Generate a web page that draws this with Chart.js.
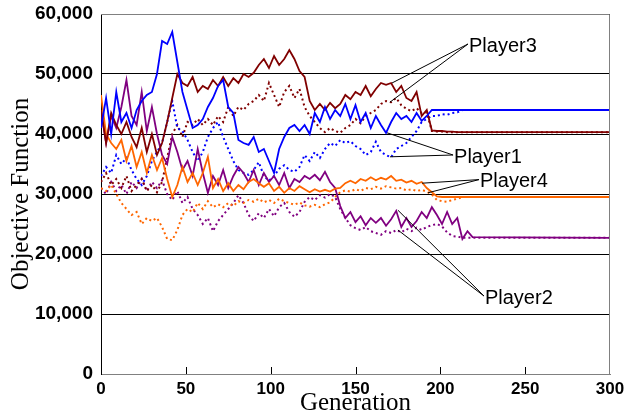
<!DOCTYPE html>
<html>
<head>
<meta charset="utf-8">
<script src="https://cdn.jsdelivr.net/npm/chart.js@4/dist/chart.umd.min.js"></script>
<style>
  body { margin: 0; background: #fff; }
  #wrap { width: 641px; height: 417px; }
</style>
</head>
<body>
<div id="wrap"><canvas id="chart" width="641" height="417"></canvas></div>
<script>
// Generation (x) of every sample, values in thousands
const gens = [0, 3, 6, 9, 12, 15, 18, 21, 24, 27,
  30, 33, 36, 39, 42, 45, 48, 51, 54, 57,
  60, 63, 66, 69, 72, 75, 78, 81, 84, 87,
  90, 93, 96, 99, 102, 105, 108, 111, 114, 117,
  120, 123, 126, 129, 132, 135, 138, 141, 144, 147,
  150, 153, 156, 159, 162, 165, 168, 171, 174, 177,
  180, 183, 186, 189, 192, 195, 198, 201, 204, 207,
  210, 213, 216, 219, 300];

const player1 = [41, 46, 40, 47, 42, 43.5, 41, 44, 45.5, 46.5,
  47, 50, 55.5, 55, 57, 52, 47, 44, 41, 41.5,
  42.5, 44.5, 46, 48, 49, 44.5, 43.5, 39, 38.5, 38.2,
  39.5, 37, 37.5, 35.5, 33.5, 37.5, 39.5, 41, 41.5, 40.5,
  41.5, 40, 43.5, 42, 44.5, 42.5, 44, 43, 45, 42.5,
  44.8, 42, 43.5, 41, 43, 41.5, 40.2, 42, 43.5, 42.5,
  43, 42, 43.5, 42.2, 43, 44, 44, 44, 44, 44,
  44, 44, 44, 44, 44];
const player1b = [33, 34.5, 33.5, 36.5, 35, 36, 34, 32.5, 31.5, 33,
  35.5, 37, 38.5, 42, 45.5, 41, 40.5, 39, 37, 35.5,
  37, 39.5, 41, 42, 39.5, 37.5, 35.5, 34, 33.5, 33.2,
  34, 35.3, 33, 32.2, 33, 34.2, 34.8, 34, 33.7, 34.5,
  36.5, 35.5, 37, 36, 37.5, 38.5, 38, 39, 38.5, 38.8,
  38, 37.5, 36.5, 37, 38.7, 37, 36.5, 36.1, 37.5, 38,
  38.5, 39.5, 40.5, 42, 42.5, 43, 43, 43.3, 43.2, 43.5,
  43.6, 44, 44, 44, 44];

const player2 = [44, 38.5, 43, 41, 44.5, 49, 43, 41.5, 47, 40.5,
  44.5, 40, 36.5, 35, 39.5, 37, 34, 35.5, 33, 37.5,
  33.5, 30.2, 33, 31.5, 34, 31, 33, 34.5, 33.5, 32,
  34, 31.5, 33.5, 32, 33, 31.5, 33.5, 31, 32.5, 32,
  33, 32.5, 33.2, 32.3, 33.7, 32, 31, 28, 26, 27,
  25.3, 26.3, 24.8, 26, 25.2, 26, 24.7, 25.8, 27.2, 24.5,
  26, 24.5, 25.5, 27, 26, 27.8, 26.5, 25, 27, 25,
  26, 22.5, 23.8, 22.8, 22.7];
const player2b = [31, 30, 32, 30.5, 31.5, 30, 32, 31, 32.5, 30.5,
  32, 31, 32.3, 30, 29, 30.5, 28.5, 29.5, 27.5, 26.5,
  25, 26, 23.8, 25.5, 26.5, 27.5, 28.5, 29.8, 28.5, 26.5,
  25.5, 26.8, 26, 27.5, 26.3, 27.8, 28.5, 27, 26.2, 27,
  28.7, 29.5, 29, 29.8, 29.4, 30, 29.5, 27.5, 26, 24.8,
  24.3, 24, 24.5, 23.8, 23.5, 23.2, 23.8, 23.5, 24, 23.6,
  24.2, 23.8, 24.4, 24, 24.5, 24.8, 25, 24.6, 23.6, 23,
  22.9, 22.7, 22.7, 22.7, 22.7];

const player3 = [44, 38.5, 43.5, 41.5, 40, 42, 39.5, 37.8, 41, 37,
  40, 36.5, 38.5, 42, 46, 50, 48.5, 48, 49.5, 47,
  48, 47.5, 49, 48, 49.5, 48, 49.3, 48.5, 50, 49.5,
  50.2, 51.5, 52.5, 51, 53, 51.5, 52.5, 54, 52.5, 50.5,
  49.5, 45.5, 44, 45, 44, 45.2, 44.3, 45, 46.5, 45.8,
  47, 46.5, 48, 46.3, 47.5, 48.5, 48.2, 48.5, 47, 48,
  46, 45.5, 47, 43, 44, 40.6, 40.5, 40.5, 40.4, 40.4,
  40.3, 40.3, 40.3, 40.3, 40.3];
const player3b = [32, 33.5, 31.5, 32.5, 31, 33, 30.5, 31.5, 32.5, 30.5,
  31.5, 30.3, 32, 36, 40, 41.5, 39.5, 42, 41.5, 42.5,
  41.5, 42.5, 41.5, 43, 42, 44.5, 43, 44.5, 44, 45,
  45.5, 46.5, 45.5, 48.5, 46.5, 44.5, 47, 48, 46, 47.5,
  44.5, 43, 42, 41, 40.3, 41, 40.5, 40.2, 41, 41.5,
  42.5, 41.8, 43, 43.5, 44, 45, 45.5, 45.3, 46, 44.8,
  44.2, 43.8, 44.3, 43.5, 43.6, 40.5, 40.4, 40.4, 40.3, 40.3,
  40.3, 40.3, 40.3, 40.3, 40.3];

const player4 = [46.5, 40, 38.5, 37.5, 39, 35.5, 38, 34.5, 37, 33.5,
  36.5, 34, 36, 32.5, 29.5, 31.5, 34.5, 32, 33.5, 31.5,
  33.5, 36.2, 31, 32.5, 30.5, 31.8, 30.5, 31.5, 30.8, 32,
  32.5, 31.8, 31.2, 31.8, 30.5, 31.2, 30.2, 31, 30.5, 31.3,
  30.8, 30.3, 30.8, 30.4, 30.7, 30.4, 30.9, 31, 31.8, 32.2,
  31.8, 32.5, 32.2, 32.8, 32.3, 32.7, 32.4, 33, 32.2, 32.4,
  31.9, 32.2, 31.7, 32, 31, 30.3, 29.6, 29.5, 29.5, 29.5,
  29.5, 29.5, 29.5, 29.5, 29.5];
const player4b = [31, 30.5, 31.5, 30, 28.5, 27.5, 26.5, 27, 25, 26,
  25.5, 26, 24.5, 22.5, 22.3, 24, 26.5, 27.5, 27, 28.5,
  27.5, 28.8, 27.8, 28.3, 27.8, 28.5, 28, 28.8, 28.5, 29,
  28.7, 29.2, 28.6, 29, 28.5, 29.2, 28.8, 28.5, 28.2, 28.6,
  28.1, 27.9, 28.2, 27.8, 28.3, 28.6, 29.5, 30.3, 30.6, 30.4,
  30.8, 30.5, 31, 30.8, 31.2, 30.9, 31.3, 31.1, 30.9, 31,
  30.6, 30.8, 30.5, 30.7, 30.4, 29.9, 29, 28.8, 28.7, 29,
  29.2, 29.5, 29.5, 29.5, 29.5];

const yTickLabels = ['0', '10,000', '20,000', '30,000', '40,000', '50,000', '60,000'];
const xTickLabels = ['0', '50', '100', '150', '200', '250', '300'];

// call-out labels: text anchor and the two points each one points at
const calloutNames = ['Player3', 'Player1', 'Player4', 'Player2'];
const calloutAt = [[216.3, 55.0], [207.5, 36.5], [222.8, 32.4], [225.7, 13.0]];
const calloutTargets = [
  [[171.5, 48.5], [170.3, 45.3]],
  [[168.6, 40.2], [170.3, 36.2]],
  [[189.2, 31.8], [192.7, 30.2]],
  [[175.0, 27.3], [175.0, 24.0]]
];

const BLUE = '#0000ff', PURPLE = '#800080', MAROON = '#800000', ORANGE = '#ff6600';

function series(label, values, color, dotted) {
  return {
    label: label,
    data: values.map((v, i) => ({ x: gens[i], y: v })),
    borderColor: color,
    backgroundColor: color,
    borderWidth: dotted ? 2 : 1.8,
    borderDash: dotted ? [2, 3] : [],
    pointRadius: 0,
    tension: 0,
    fill: false
  };
}

// frame, inward x ticks and the Player call-outs
const extras = {
  id: 'extras',
  afterDatasetsDraw(chart) {
    const { ctx, chartArea: a, scales: { x, y } } = chart;
    ctx.save();
    ctx.strokeStyle = '#808080';
    ctx.lineWidth = 1;
    ctx.beginPath();
    ctx.moveTo(a.left, a.top + 0.5);
    ctx.lineTo(a.right - 0.5, a.top + 0.5);
    ctx.lineTo(a.right - 0.5, a.bottom);
    ctx.stroke();

    ctx.strokeStyle = '#000';
    ctx.beginPath();
    for (let g = 50; g < 300; g += 50) {
      const px = Math.round(x.getPixelForValue(g)) + 0.5;
      ctx.moveTo(px, a.bottom);
      ctx.lineTo(px, a.bottom - 7);
    }
    ctx.stroke();

    ctx.font = '20px "Liberation Sans", Arial, sans-serif';
    ctx.fillStyle = '#000';
    ctx.textBaseline = 'middle';
    ctx.textAlign = 'left';
    calloutNames.forEach((name, i) => {
      const ax = x.getPixelForValue(calloutAt[i][0]);
      const ay = y.getPixelForValue(calloutAt[i][1]);
      ctx.beginPath();
      calloutTargets[i].forEach(t => {
        ctx.moveTo(ax, ay);
        ctx.lineTo(x.getPixelForValue(t[0]), y.getPixelForValue(t[1]));
      });
      ctx.stroke();
      ctx.fillText(name, ax + 1, ay + 2);
    });
    ctx.restore();
  }
};

new Chart(document.getElementById('chart'), {
  type: 'line',
  data: {
    datasets: [
      series('Player1', player1, BLUE, false),
      series('Player3', player3, MAROON, false),
      series('Player4', player4, ORANGE, false),
      series('Player2', player2, PURPLE, false),
      series('Player1 best', player1b, BLUE, true),
      series('Player3 best', player3b, MAROON, true),
      series('Player4 best', player4b, ORANGE, true),
      series('Player2 best', player2b, PURPLE, true)
    ]
  },
  options: {
    responsive: false,
    animation: false,
    layout: { padding: { left: 0, right: 31, top: 14, bottom: 0 } },
    plugins: { legend: { display: false }, tooltip: { enabled: false } },
    scales: {
      x: {
        type: 'linear',
        min: 0, max: 300,
        afterFit: s => { s.height = 43; s.paddingLeft = 0; s.paddingRight = 0; },
        grid: { display: false, drawTicks: false },
        border: { display: true, color: '#808080', width: 1 },
        ticks: {
          stepSize: 50,
          padding: 5,
          color: '#000',
          font: { family: '"Liberation Sans", Arial, sans-serif', size: 17, weight: 'bold' },
          callback: (v) => xTickLabels[v / 50]
        },
        title: {
          display: true,
          text: 'Generation',
          color: '#000',
          padding: { top: 0, bottom: 0 },
          font: { family: '"Liberation Serif", "Times New Roman", serif', size: 25, lineHeight: 1.1 }
        }
      },
      y: {
        min: 0, max: 60,
        afterFit: s => { s.width = 101; s.paddingTop = 0; s.paddingBottom = 0; },
        grid: { color: '#000', lineWidth: 1, drawTicks: false },
        border: { display: true, color: '#000', width: 1 },
        ticks: {
          stepSize: 10,
          padding: 8,
          color: '#000',
          font: { family: '"Liberation Sans", Arial, sans-serif', size: 19, weight: 'bold' },
          callback: (v) => yTickLabels[v / 10]
        },
        title: {
          display: true,
          text: 'Objective Function',
          color: '#000',
          padding: { top: 8, bottom: 0 },
          font: { family: '"Liberation Serif", "Times New Roman", serif', size: 25, lineHeight: 1.1 }
        }
      }
    }
  },
  plugins: [extras]
});
</script>
</body>
</html>
